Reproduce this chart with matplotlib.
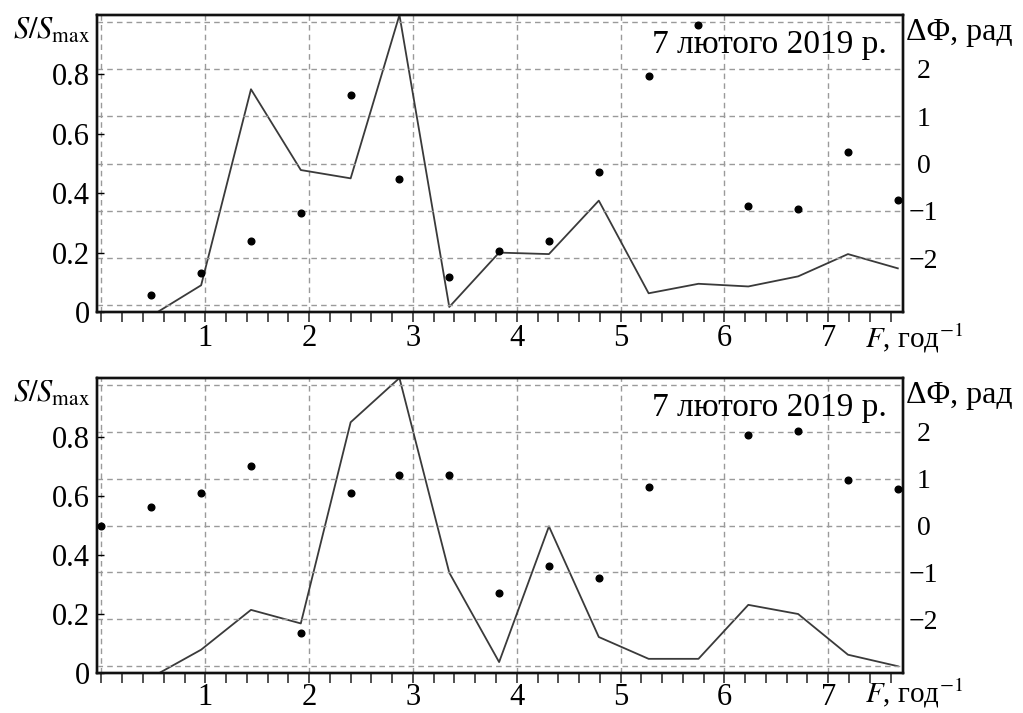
import numpy as np
import matplotlib
matplotlib.use("Agg")
import matplotlib.pyplot as plt
from matplotlib.ticker import MultipleLocator, FixedLocator

plt.rcParams['font.family'] = ['Liberation Serif', 'DejaVu Serif']
plt.rcParams['mathtext.fontset'] = 'stix'
plt.rcParams['axes.unicode_minus'] = True

# ---- data ----
freq = [0.48, 0.96, 1.44, 1.92, 2.40, 2.87, 3.35, 3.83, 4.31, 4.79,
        5.27, 5.75, 6.23, 6.71, 7.19, 7.67]

# top panel
s_top = [-0.013, 0.09, 0.75, 0.478, 0.45, 1.0, 0.017, 0.20, 0.195, 0.375,
         0.063, 0.095, 0.086, 0.12, 0.195, 0.147]
phase_top_f = freq
phase_top = [-2.78, -2.32, -1.63, -1.05, 1.44, -0.32, -2.41, -1.86, -1.64, -0.17,
             1.86, 2.93, -0.89, -0.96, 0.25, -0.77]

# bottom panel
s_bot = [-0.015, 0.079, 0.214, 0.168, 0.85, 1.0, 0.34, 0.037, 0.497, 0.122,
         0.048, 0.048, 0.231, 0.20, 0.062, 0.023]
phase_bot_f = [0.0, 0.48, 0.96, 1.44, 1.92, 2.40, 2.87, 3.35, 3.83, 4.31, 4.79,
               5.27, 6.23, 6.71, 7.19, 7.67]
phase_bot = [0.0, 0.40, 0.685, 1.27, -2.28, 0.685, 1.07, 1.07, -1.44, -0.86, -1.12,
             0.82, 1.92, 2.02, 0.96, 0.78]

left_ticks = [0, 0.2, 0.4, 0.6, 0.8]
left_labels = ['0', '0.2', '0.4', '0.6', '0.8']
right_ticks = [-3, -2, -1, 0, 1, 2, 3]
right_labels = ['', '\u22122', '\u22121', '0', '1', '2', '']
x_ticks = [0, 1, 2, 3, 4, 5, 6, 7]
x_labels = ['', '1', '2', '3', '4', '5', '6', '7']
date_text = '7 лютого 2019 р.'

W, H = 1023, 713
fig = plt.figure(figsize=(W / 100, H / 100), dpi=100)

grid_kw = dict(color='#9a9a9a', linestyle=(0, (4, 3)), linewidth=1.0)


def px(x, y):
    return x / W, 1 - y / H


def make_panel(top_px, bot_px, s_vals, ph_f, ph_vals, f_off, xpad):
    left, right = 97, 903
    ax = fig.add_axes([left / W, 1 - bot_px / H, (right - left) / W, (bot_px - top_px) / H])
    ax.set_xlim(-0.043, 7.72)
    ax.set_ylim(0, 1.0)
    ax.plot(freq, s_vals, color='#3a3a3a', linewidth=1.3, zorder=3)

    ax.xaxis.set_major_locator(FixedLocator(x_ticks))
    ax.set_xticklabels(x_labels)
    ax.xaxis.set_minor_locator(MultipleLocator(0.2))
    ax.tick_params(axis='x', which='both', direction='out', length=7, width=1.1,
                   labelsize=22, pad=xpad, color='#222222')
    ax.set_yticks(left_ticks)
    ax.set_yticklabels(left_labels)
    ax.tick_params(axis='y', which='both', direction='in', length=5, width=1.0,
                   labelsize=22, pad=5)
    ax.grid(True, axis='x', **grid_kw)
    for sp in ax.spines.values():
        sp.set_linewidth(1.7)
        sp.set_color('#111111')

    ax2 = ax.twinx()
    ax2.set_ylim(-np.pi, np.pi)
    ax2.set_yticks(right_ticks)
    ax2.set_yticklabels(right_labels)
    ax2.tick_params(axis='y', length=0, labelsize=20, pad=15)
    for lab in ax2.get_yticklabels():
        lab.set_horizontalalignment('center')
    ax2.grid(True, axis='y', **grid_kw)
    ax2.plot(ph_f, ph_vals, linestyle='none', marker='o', markersize=4.8,
             color='black', clip_on=False, zorder=4)
    for sp in ax2.spines.values():
        sp.set_linewidth(1.7)
        sp.set_color('#111111')

    fig.text(*px(887, top_px + 38), date_text, ha='right', va='baseline', fontsize=24)
    fig.text(*px(13, top_px + 24), r'$S/S_{\rm max}$', ha='left', va='baseline', fontsize=22)
    fig.text(*px(906, top_px + 25), 'ΔΦ, рад', ha='left', va='baseline', fontsize=23)
    fig.text(*px(865, bot_px + f_off), r'$F$, год$^{-1}$', ha='left', va='baseline', fontsize=21)
    return ax, ax2


make_panel(15, 312, s_top, phase_top_f, phase_top, 35, 2)
make_panel(378, 673, s_bot, phase_bot_f, phase_bot, 29, 0)

fig.savefig('out.png', dpi=100)
